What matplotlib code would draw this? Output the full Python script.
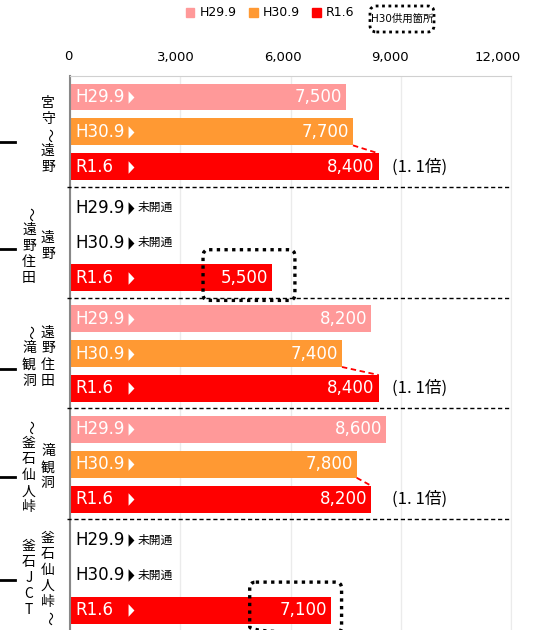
import numpy as np
import matplotlib.pyplot as plt
from matplotlib.patches import FancyBboxPatch, Rectangle

plt.rcParams['font.family'] = ['DejaVu Sans', 'Noto Sans CJK JP']

# data
periods = ["H29.9", "H30.9", "R1.6"]
colors = ["#FF9999", "#FF9933", "#FF0000"]
h29 = [7500, None, 8200, 8600, None]
h30 = [7700, None, 7400, 7800, None]
r16 = [8400, 5500, 8400, 8200, 7100]
ratio_text = ["(1. 1倍)", "", "(1. 1倍)", "(1. 1倍)", ""]
opened_h30 = [False, True, False, False, True]
missing_text = "未開通"
xticks = [0, 3000, 6000, 9000, 12000]
# section names, written vertically (right column, left column)
section_cols = [("宮守〜遠野", ""), ("遠野", "〜遠野住田"), ("遠野住田", "〜滝観洞"),
                ("滝観洞", "〜釜石仙人峠"), ("釜石仙人峠〜", "釜石JCT")]
marker_off = [0.2, 0.1, 0.36, 0.27, 0.05]
# dotted box extent around the H30-opened bars (left / right of bar end)
box_pad = {1: (-1880, 620), 4: (-2210, 290)}

W, H = 534, 630
fig = plt.figure(figsize=(W / 100, H / 100), dpi=100)
ax = fig.add_axes([70 / W, 0, 441 / W, (630 - 76) / H])

gh = 3.17          # group height
offs = [0.6, 1.6, 2.6]
bh = 0.77
n = len(r16)
series = [h29, h30, r16]
tri = [(-0.47, -1), (-0.47, 1), (0.47, 0)]

ax.set_xlim(0, 12000)
ax.set_ylim(n * gh, 0)

for g in range(n):
    for j, vals in enumerate(series):
        y = g * gh + offs[j]
        v = vals[g]
        if v is None:
            ax.text(136, y, periods[j], color="black", fontsize=12, va="center", ha="left")
            ax.plot(1660, y, marker=tri, ms=9, color="black", mec="none")
            ax.text(1830, y, missing_text, color="black", fontsize=8.5, va="center", ha="left",
                    family=['Noto Sans CJK JP'])
            continue
        ax.barh(y, v, height=bh, color=colors[j], zorder=2)
        ax.text(136, y, periods[j], color="white", fontsize=12, va="center", ha="left", zorder=3)
        ax.plot(1660, y, marker=tri, ms=9, color="white", mec="none", zorder=3)
        ax.text(v - 110, y, f"{v:,}", color="white", fontsize=12, va="center", ha="right", zorder=3)

    # growth line H30.9 -> R1.6
    if h30[g] is not None and ratio_text[g]:
        ax.plot([h30[g], r16[g]], [g * gh + offs[1] + bh / 2, g * gh + offs[2] - bh / 2],
                color="#FF0000", lw=1.3, ls=(0, (3, 2)), zorder=3)
    if ratio_text[g]:
        ax.text(8770, g * gh + offs[2], ratio_text[g], fontsize=12, va="center", ha="left",
                family=['Noto Sans CJK JP'])

    # highlighted (H30 opened) box
    if opened_h30[g]:
        yc = g * gh + offs[2]
        x0 = r16[g] + box_pad[g][0]
        x1 = r16[g] + box_pad[g][1]
        box = FancyBboxPatch((x0, yc - 0.8), x1 - x0, 1.45,
                             boxstyle="round,pad=0,rounding_size=165", mutation_aspect=0.00105,
                             fill=False, ec="black", lw=2.4, ls=(0, (1, 1.3)), zorder=4, clip_on=False)
        ax.add_patch(box)

    # group separator
    if g > 0:
        ax.plot([-0.007, 1.0], [g * gh, g * gh], transform=ax.get_yaxis_transform(),
                color="black", lw=1, ls=(0, (3, 2)), clip_on=False, zorder=3)

    # left labels (vertical writing)
    gc = g * gh + 1.625 + 0.06
    for text, xa in zip(section_cols[g], [-0.05, -0.093]):
        m = len(text)
        for i, ch in enumerate(text):
            yy = gc + (i - (m - 1) / 2) * 0.46
            ax.text(xa, yy, ch, transform=ax.get_yaxis_transform(), fontsize=10,
                    ha="center", va="center", rotation=-90 if ch == "〜" else 0,
                    family=['Noto Sans CJK JP'], clip_on=False)
    ax.plot([-0.159, -0.125], [gc + marker_off[g]] * 2, transform=ax.get_yaxis_transform(),
            color="black", lw=2, clip_on=False)

# axes styling
ax.set_xticks(xticks)
ax.set_xticklabels([])
ax.tick_params(axis="both", length=0)
ax.set_yticks([])
for t in xticks:
    # labels sit slightly left of their gridlines in the original
    ax.text(t * 0.973 - 50, 1.0 + 19 / 554, f"{t:,}", transform=ax.get_xaxis_transform(),
            fontsize=9.5, ha="center", va="center")
ax.grid(axis="x", color="#ebebeb", lw=1, zorder=0)
ax.set_axisbelow(True)
ax.spines["bottom"].set_visible(False)
ax.spines["right"].set_color("#ebebeb")
ax.spines["top"].set_color("#d0d0d0")
ax.spines["left"].set_color("#888888")
ax.spines["left"].set_linewidth(1.5)

# legend
handles = [Rectangle((0, 0), 1, 1, color=c) for c in colors]
fig.legend(handles, periods, ncol=3, loc="center", bbox_to_anchor=(270 / W, 1 - 13 / H),
           frameon=False, fontsize=9, handlelength=0.7, handleheight=0.7,
           handletextpad=0.4, columnspacing=1.0)
lbox = FancyBboxPatch((370 / W, 1 - 32 / H), 64 / W, 26 / H, transform=fig.transFigure,
                      boxstyle="round,pad=0,rounding_size=0.012", mutation_aspect=W / H,
                      fill=False, ec="black", lw=2, ls=(0, (1, 1.3)))
fig.patches.append(lbox)
fig.text(402 / W, 1 - 19 / H, "H30供用箇所", fontsize=7.5, ha="center", va="center",
         family=['DejaVu Sans', 'Noto Sans CJK JP'])

fig.savefig("out.png", dpi=100)
